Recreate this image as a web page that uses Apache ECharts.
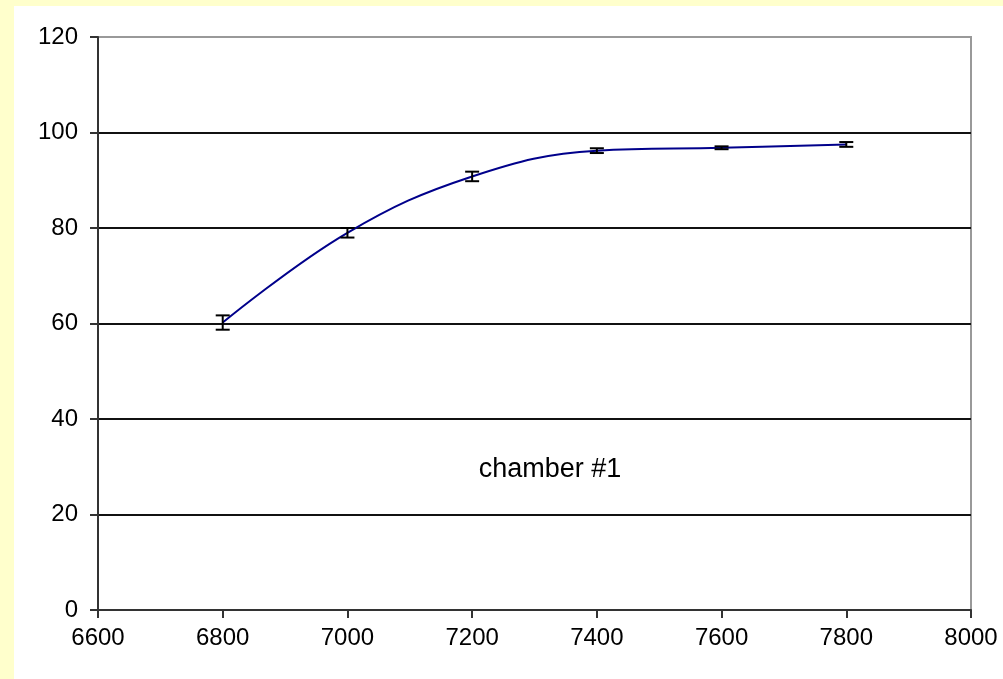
<!DOCTYPE html>
<html>
<head>
<meta charset="utf-8">
<script src="https://cdn.jsdelivr.net/npm/echarts@6/dist/echarts.min.js"></script>
<style>
  html, body { margin: 0; padding: 0; background: #FFFFCC; }
  #chart { width: 1003px; height: 679px; }
</style>
</head>
<body>
<div id="chart"></div>
<script>
// Efficiency vs. high voltage for chamber #1
const voltages = [6800, 7000, 7200, 7400, 7600, 7800];
const efficiency = [60.2, 79.0, 90.8, 96.2, 96.8, 97.5];
const errors = [1.5, 1.0, 1.0, 0.5, 0.3, 0.5];
const xTicks = [6600, 6800, 7000, 7200, 7400, 7600, 7800, 8000];
const yTicks = [0, 20, 40, 60, 80, 100, 120];
const annotation = 'chamber #1';

const FONT = '"Liberation Sans", Arial, sans-serif';

const chart = echarts.init(document.getElementById('chart'), null, { renderer: 'canvas' });

const lineData = voltages.map((v, i) => [v, efficiency[i]]);
const errData = voltages.map((v, i) => [v, efficiency[i] - errors[i], efficiency[i] + errors[i]]);

// split line colours: inner lines black, the top one hidden under the plot border
const splitColors = yTicks.map((t, i) => (i === yTicks.length - 1 ? 'rgba(0,0,0,0)' : '#111111'));

chart.setOption({
  backgroundColor: '#FFFFCC',
  animation: false,
  graphic: [
    {
      type: 'rect',
      z: -10,
      shape: { x: 14, y: 6, width: 1003 - 14, height: 679 - 6 },
      style: { fill: '#FFFFFF' },
      silent: true
    },
    {
      type: 'text',
      x: 550,
      y: 470,
      z: 10,
      style: {
        text: annotation,
        fill: '#000',
        font: '27px ' + FONT,
        textAlign: 'center',
        textVerticalAlign: 'middle'
      }
    }
  ],
  grid: {
    left: 98,
    right: 32,
    top: 37,
    bottom: 69,
    show: true,
    backgroundColor: 'transparent',
    borderColor: '#999999',
    borderWidth: 2
  },
  xAxis: {
    type: 'value',
    min: xTicks[0],
    max: xTicks[xTicks.length - 1],
    interval: xTicks[1] - xTicks[0],
    axisLine: { show: true, onZero: false, lineStyle: { color: '#333', width: 2 } },
    axisTick: { show: true, length: 8, lineStyle: { color: '#333', width: 2 } },
    axisLabel: {
      color: '#000', fontSize: 24, fontFamily: FONT, margin: 16,
      formatter: function (v) { return String(v); }
    },
    splitLine: { show: false }
  },
  yAxis: {
    type: 'value',
    min: yTicks[0],
    max: yTicks[yTicks.length - 1],
    interval: yTicks[1] - yTicks[0],
    axisLine: { show: true, lineStyle: { color: '#333', width: 2 } },
    axisTick: { show: true, length: 8, lineStyle: { color: '#333', width: 2 } },
    axisLabel: {
      color: '#000', fontSize: 24, fontFamily: FONT, margin: 20,
      formatter: function (v) { return String(v); }
    },
    splitLine: { show: true, lineStyle: { color: splitColors, width: 2 } }
  },
  series: [
    {
      type: 'line',
      data: lineData,
      smooth: 0.4,
      showSymbol: false,
      symbol: 'none',
      lineStyle: { color: '#00008B', width: 2 },
      z: 3
    },
    {
      type: 'custom',
      data: errData,
      z: 4,
      renderItem: function (params, api) {
        const x = api.value(0);
        const lo = api.coord([x, api.value(1)]);
        const hi = api.coord([x, api.value(2)]);
        const half = 7;
        const style = { stroke: '#000', lineWidth: 2 };
        return {
          type: 'group',
          children: [
            { type: 'line', shape: { x1: lo[0], y1: lo[1], x2: hi[0], y2: hi[1] }, style: style },
            { type: 'line', shape: { x1: lo[0] - half, y1: lo[1], x2: lo[0] + half, y2: lo[1] }, style: style },
            { type: 'line', shape: { x1: hi[0] - half, y1: hi[1], x2: hi[0] + half, y2: hi[1] }, style: style }
          ]
        };
      }
    }
  ]
});
</script>
</body>
</html>
